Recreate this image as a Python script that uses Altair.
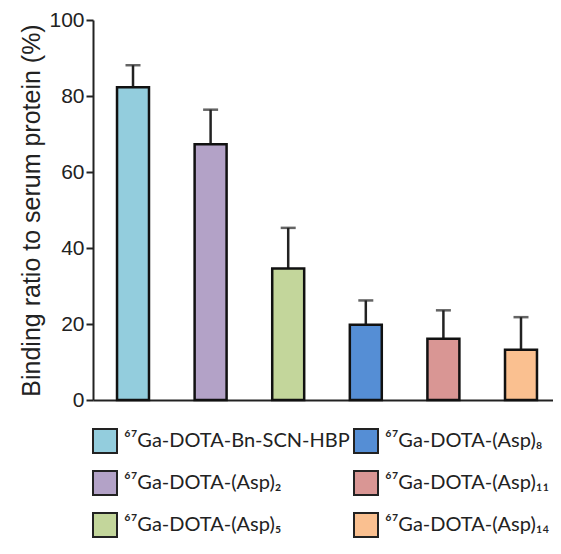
import altair as alt
import pandas as pd

labels = [
    "⁶⁷Ga-DOTA-Bn-SCN-HBP",
    "⁶⁷Ga-DOTA-(Asp)₂",
    "⁶⁷Ga-DOTA-(Asp)₅",
    "⁶⁷Ga-DOTA-(Asp)₈",
    "⁶⁷Ga-DOTA-(Asp)₁₁",
    "⁶⁷Ga-DOTA-(Asp)₁₄",
]
means = [82.3, 67.3, 34.6, 19.8, 16.1, 13.2]
sds = [5.8, 9.1, 10.7, 6.4, 7.5, 8.6]
colors = ["#93CDDD", "#B3A2C7", "#C3D69B", "#558ED5", "#D99694", "#FAC090"]

df = pd.DataFrame({"compound": labels, "mean": means, "sd": sds})

x = alt.X(
    "compound:N",
    sort=labels,
    scale=alt.Scale(paddingInner=0.588, paddingOuter=0.258, align=0.6),
    axis=alt.Axis(labels=False, ticks=False, title=None, domainWidth=2, domainColor="#222222"),
)

base = alt.Chart(df).transform_calculate(upper="datum.mean + datum.sd")

bars = base.mark_bar(stroke="#111111", strokeWidth=2.5).encode(
    x=x,
    y=alt.Y(
        "mean:Q",
        scale=alt.Scale(domain=[0, 100], nice=False),
        axis=alt.Axis(
            values=[0, 20, 40, 60, 80, 100],
            title="Binding ratio to serum protein (%)",
            grid=False,
            domainWidth=2,
            domainColor="#222222",
            tickColor="#222222",
            tickWidth=2,
            tickSize=7,
            labelFontSize=21,
            labelFont="Liberation Sans",
            labelColor="#222222",
            labelPadding=2,
            titleFont="Liberation Sans",
            titleFontSize=25,
            titleFontWeight="normal",
            titleColor="#222222",
            titlePadding=4,
        ),
    ),
    fill=alt.Fill(
        "compound:N",
        scale=alt.Scale(domain=labels, range=colors),
        legend=alt.Legend(
            title=None,
            orient="none",
            legendX=-1,
            legendY=408,
            columns=2,
            direction="vertical",
            symbolType="square",
            symbolSize=576,
            symbolStrokeColor="#222222",
            symbolStrokeWidth=2,
            symbolOpacity=1,
            labelFont="Lato",
            labelFontSize=20,
            labelColor="#222222",
            labelOffset=6,
            labelLimit=400,
            columnPadding=0,
            rowPadding=10,
        ),
    ),
)

rules = base.mark_rule(color="#222222", strokeWidth=2.5).encode(
    x=x, y="mean:Q", y2="upper:Q"
)
caps = base.mark_tick(color="#222222", thickness=2.5, size=15).encode(
    x=x, y="upper:Q"
)

chart = (
    alt.layer(rules, caps, bars)
    .properties(
        width=460,
        height=380,
        autosize=alt.AutoSizeParams(type="none"),
        padding={"left": 85, "top": 12, "right": 0, "bottom": 142},
    )
    .configure_view(stroke=None)
)

chart.save("out.html", embed_options={"renderer": "svg", "actions": False})
